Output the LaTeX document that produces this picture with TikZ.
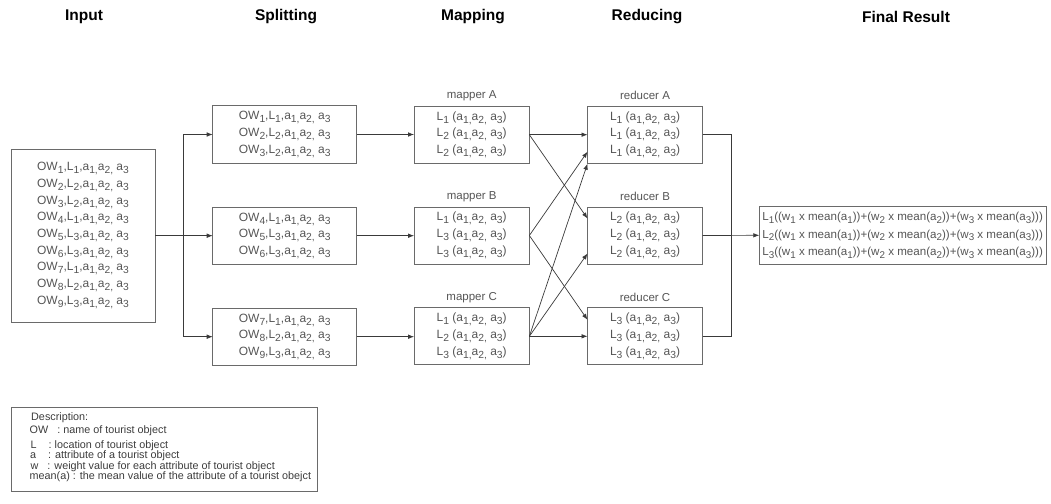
\documentclass[tikz,border=0pt]{standalone}
\usepackage{fontspec}
\setmainfont{Liberation Sans}
\usetikzlibrary{arrows.meta,calc}
\newcommand{\dn}[1]{\raisebox{-3pt}{\fontsize{10.3}{10}\selectfont #1}}
\newcommand{\dnf}[1]{\raisebox{-2.7pt}{\fontsize{9.8}{10}\selectfont #1}}
\newcommand{\rw}[2]{OW\dn{#1},L\dn{#2},a\dn{1,}a\dn{2,} a\dn{3}}
\newcommand{\lr}[1]{L\dn{#1} (a\dn{1,}a\dn{2,} a\dn{3})}
\newcommand{\fr}[1]{L\dnf{#1}((w\dnf{1} x mean(a\dnf{1}))+(w\dnf{2} x mean(a\dnf{2}))+(w\dnf{3} x mean(a\dnf{3})))}
\definecolor{txt}{HTML}{555555}
\definecolor{dtxt}{HTML}{3C3C3C}
\definecolor{bord}{HTML}{6A6A6A}
\definecolor{lin}{HTML}{3A3A3A}
\begin{document}
\begin{tikzpicture}[x=1pt,y=-1pt,
 box/.style={draw=bord, line width=0.8pt, inner sep=0pt, outer sep=0pt, align=center, text=txt, font=\fontsize{12}{16.7}\selectfont},
 title/.style={font=\fontsize{15.5}{18}\selectfont\bfseries, text=black},
 lab/.style={font=\fontsize{11.5}{14}\selectfont, text=txt},
 dline/.style={anchor=west, inner sep=0pt, font=\fontsize{10.8}{13}\selectfont, text=dtxt},
 arr/.style={draw=lin, line width=0.7pt, -{Latex[length=6pt,width=4.6pt]}},
 ln/.style={draw=lin, line width=0.7pt},
]
\useasboundingbox (0,0) rectangle (1051,503);

% titles
\node[title] (t1) at (84,17) {Input};
\node[title] (t2) at (286,17) {Splitting};
\node[title] (t3) at (473,17) {Mapping};
\node[title] (t4) at (647,17) {Reducing};
\node[title] (t5) at (906,17) {Final Result};

% input
\node[box, minimum width=144pt, minimum height=173pt] (in) at (83,235.5)
 {\rw11\\\rw22\\\rw32\\\rw41\\\rw53\\\rw63\\\rw71\\\rw82\\\rw93};

% splitting
\node[box, minimum width=144pt, minimum height=57.5pt] (s1) at (284.7,134.5) {\rw11\\\rw22\\\rw32};
\node[box, minimum width=144pt, minimum height=57.5pt] (s2) at (284.7,235.7) {\rw41\\\rw53\\\rw63};
\node[box, minimum width=144pt, minimum height=57.5pt] (s3) at (284.7,336.7) {\rw71\\\rw82\\\rw93};

% mapping
\node[box, minimum width=115.3pt, minimum height=57pt] (mA) at (471.7,134.7) {\lr1\\\lr2\\\lr2};
\node[box, minimum width=115.3pt, minimum height=57pt] (mB) at (471.7,235.5) {\lr1\\\lr3\\\lr3};
\node[box, minimum width=115.3pt, minimum height=57pt] (mC) at (471.7,336.3) {\lr1\\\lr2\\\lr3};
\node[lab] (lmA) at (471.7,95.7) {mapper A};
\node[lab] (lmB) at (471.7,196.7) {mapper B};
\node[lab] (lmC) at (471.7,297.2) {mapper C};

% reducing
\node[box, minimum width=115pt, minimum height=57pt] (rA) at (645,134.7) {\lr1\\\lr1\\\lr1};
\node[box, minimum width=115pt, minimum height=57pt] (rB) at (645,235.5) {\lr2\\\lr2\\\lr2};
\node[box, minimum width=115pt, minimum height=57pt] (rC) at (645,336.3) {\lr3\\\lr3\\\lr3};
\node[lab] (lrA) at (645,95.7) {reducer A};
\node[lab] (lrB) at (645,196.7) {reducer B};
\node[lab] (lrC) at (645,297.2) {reducer C};

% final
\node[box, minimum width=286.7pt, minimum height=57.5pt, font=\fontsize{11.6}{17.5}\selectfont] (fin) at (902.6,235.3) {\fr1\\\fr2\\\fr3};

% input fork
\coordinate (j1) at (183.7,235.7);
\draw[ln] (in.east |- j1) -- (j1);
\draw[arr] (j1) |- (s1.west);
\draw[arr] (j1) -- (s2.west |- j1);
\draw[arr] (j1) |- (s3.west);

% split -> map
\draw[arr] (s1.east) -- (mA.west |- s1.east);
\draw[arr] (s2.east) -- (mB.west |- s2.east);
\draw[arr] (s3.east) -- (mC.west |- s3.east);

% map -> reduce
\coordinate (oA) at (mA.east);
\coordinate (oB) at (mB.east);
\coordinate (oC) at (mC.east);
\draw[arr] (oA) -- (rA.west |- oA);
\draw[arr] (oA) -- ([yshift=17pt]rB.west);
\draw[arr] (oB) -- ([yshift=-17pt]rA.west);
\draw[arr] (oB) -- ([yshift=16.5pt]rC.west);
\draw[arr] (oC) -- ([yshift=-29pt]rA.west);
\draw[arr] (oC) -- ([yshift=-18pt]rB.west);
\draw[arr] (oC) -- (rC.west |- oC);

% reduce -> final
\coordinate (j2) at (731,235.5);
\draw[ln] (rA.east) -| (j2);
\draw[ln] (rC.east) -| (j2);
\draw[arr] (rB.east) -- (fin.west);

% description
\node[draw=bord, line width=0.8pt, minimum width=305.5pt, minimum height=83.3pt, inner sep=0pt] (desc) at (164.4,449.4) {};
\node[dline] (d0) at (31,417.7) {Description:};
\node[dline] (d1) at (29.5,430.3) {OW\ \ \ : name of tourist object};
\node[dline] (d2) at (30.5,445.7) {L\ \ \ \ : location of tourist object};
\node[dline] (d3) at (30,456) {a\ \ \ \ : attribute of a tourist object};
\node[dline] (d4) at (30.5,466.7) {w\ \ \ : weight value for each attribute of tourist object};
\node[dline] (d5) at (29.5,476.9) {mean(a)\ : the mean value of the attribute of a tourist obejct};
\end{tikzpicture}
\end{document}
